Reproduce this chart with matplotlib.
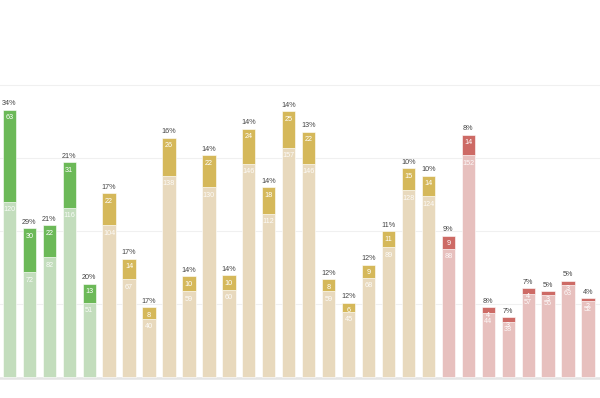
import matplotlib
matplotlib.use("Agg")
import matplotlib.pyplot as plt

base_vals = [120, 72, 82, 116, 51, 104, 67, 40, 138, 59, 130, 60, 146, 112, 157, 146,
             59, 45, 68, 89, 128, 124, 88, 152, 44, 38, 57, 56, 63, 52]
top_vals = [63, 30, 22, 31, 13, 22, 14, 8, 26, 10, 22, 10, 24, 18, 25, 22,
            8, 6, 9, 11, 15, 14, 9, 14, 4, 3, 4, 3, 3, 2]
pct_labels = ["34%", "29%", "21%", "21%", "20%", "17%", "17%", "17%", "16%", "14%",
              "14%", "14%", "14%", "14%", "14%", "13%", "12%", "12%", "12%", "11%",
              "10%", "10%", "9%", "8%", "8%", "7%", "7%", "5%", "5%", "4%"]
groups = ["g"] * 5 + ["y"] * 17 + ["r"] * 8

dark = {"g": "#6cb958", "y": "#d5b85a", "r": "#cd6a65"}
light = {"g": "#c3ddbd", "y": "#e8d9bd", "r": "#e7c0be"}

plt.rcParams['font.family'] = ['Liberation Sans', 'DejaVu Sans']

fig = plt.figure(figsize=(6.0, 3.98), dpi=100)
# baseline at y=377.3px, 200 at y=85px
H = 398.0
px_per_unit = (377.3 - 85.0) / 200.0
ymin = -(H - 377.3) / px_per_unit
ymax = 200 + 85.0 / px_per_unit
ax = fig.add_axes([0, 0, 1, 1])
ax.set_xlim(-0.469, 29.6)
ax.set_ylim(ymin, ymax)
ax.axis("off")

for g in [50, 100, 150, 200]:
    ax.axhline(g, color="#f0f0f0", lw=0.8, zorder=0)
ax.axhline(-0.3, color="#e4e4e4", lw=1.8, zorder=0)

x = list(range(len(base_vals)))
w = 0.667
for i in x:
    c = groups[i]
    ax.bar(i, base_vals[i], width=w, color=light[c], edgecolor="white", linewidth=0.4, zorder=2)
    ax.bar(i, top_vals[i], bottom=base_vals[i], width=w, color=dark[c], edgecolor="white",
           linewidth=0.4, zorder=2)
    total = base_vals[i] + top_vals[i]
    ax.annotate(str(top_vals[i]), (i, total), xytext=(0, -5.8), textcoords="offset points",
                ha="center", va="center", color="white", fontsize=5.2, zorder=3)
    ax.annotate(str(base_vals[i]), (i, base_vals[i]), xytext=(0, -5.8), textcoords="offset points",
                ha="center", va="center", color="white", fontsize=5.2, alpha=0.9, zorder=3)
    ax.annotate(pct_labels[i], (i, total), xytext=(0, 4.3), textcoords="offset points",
                ha="center", va="center", color="#444444", fontsize=5.2, zorder=3)

fig.savefig("out.png", dpi=100)
